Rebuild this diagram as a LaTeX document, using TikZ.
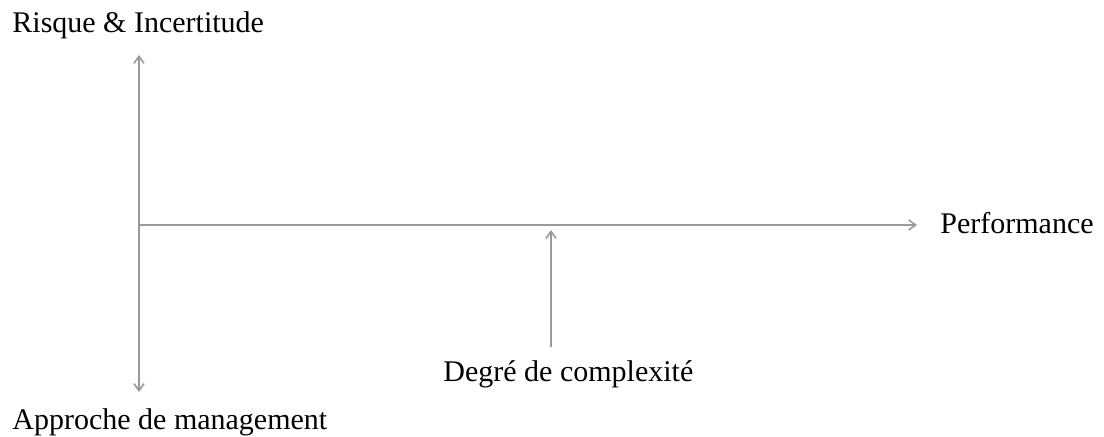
\documentclass[tikz,border=0pt]{standalone}
\usepackage{fontspec}
\setmainfont{Liberation Serif}
\usetikzlibrary{arrows.meta}
\begin{document}
\begin{tikzpicture}[x=0.5pt, y=-0.5pt, axe/.style={draw=gray!80, line width=0.8pt, -{Straight Barb[length=3.5pt, width=5pt]}}]
\tikzstyle{every node}+=[inner sep=0pt, font=\fontsize{15}{18}\selectfont]
\useasboundingbox (0,0) rectangle (1104,437);
\coordinate (o) at (139,225);
\coordinate (haut) at (139,55);
\coordinate (bas) at (139,392);
\coordinate (droite) at (917,225);
\coordinate (pied) at (551,347);
\coordinate (pointe) at (551,230);
\node[anchor=base west] (risque) at (12,33) {Risque \& Incertitude};
\node[anchor=base west] (approche) at (12,430) {Approche de management};
\node[anchor=base west] (perf) at (940,234) {Performance};
\node[anchor=base west] (degre) at (443,382) {Degré de complexité};
\draw [axe] (o) -- (haut);
\draw [axe] (o) -- (bas);
\draw [axe] (o) -- (droite);
\draw [axe] (pied) -- (pointe);
\end{tikzpicture}
\end{document}
